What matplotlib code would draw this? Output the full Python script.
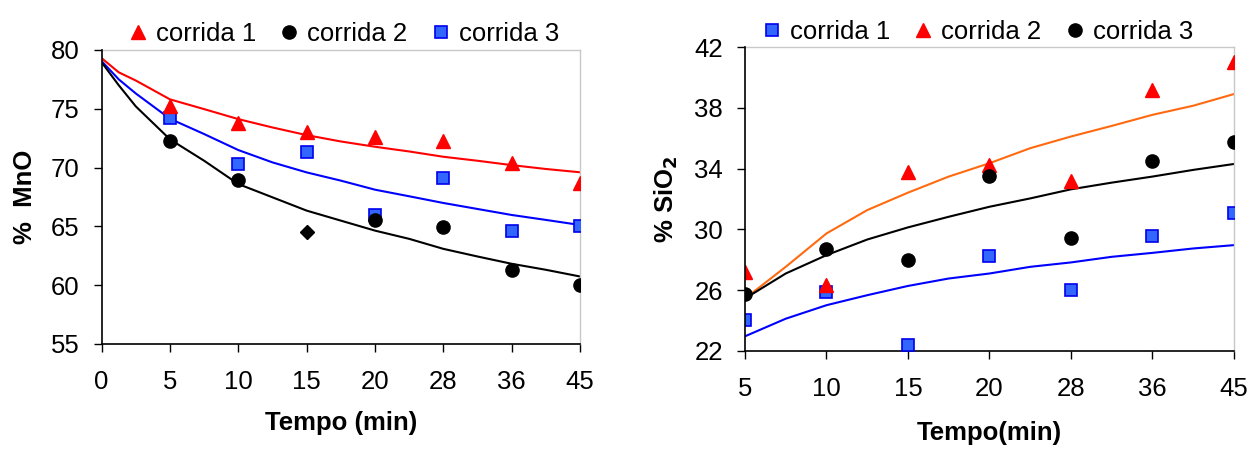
import matplotlib
matplotlib.use('Agg')
from matplotlib import pyplot as plt

plt.rcParams['font.family'] = ['Liberation Sans', 'DejaVu Sans']

# ---- left chart: % MnO ----
mno_times = ['0', '5', '10', '15', '20', '28', '36', '45']
mno_run1 = [75.2, 73.75, 73.0, 72.56, 72.28, 70.36, 68.66]   # triangles, from t=5
mno_run2 = [72.28, 68.97, None, 65.5, 64.93, 61.33, 60.03]   # circles
mno_run2_odd = 64.5                                           # diamond at t=15
mno_run3 = [74.2, 70.3, 71.29, 66.0, 69.11, 64.64, 65.07]     # squares

# model curves sampled along the category axis (category index)
mno_curve_pos = [0, 0.25, 0.5, 1, 1.5, 2, 2.5, 3, 3.5, 4, 4.5, 5, 5.5, 6, 6.5, 7]
mno_curve1 = [79.3, 78.1, 77.4, 75.8, 74.97, 74.12, 73.41, 72.76, 72.22, 71.77, 71.37,
              70.92, 70.58, 70.21, 69.88, 69.6]
mno_curve2 = [78.95, 77.0, 75.2, 72.4, 70.58, 68.6, 67.47, 66.34, 65.49, 64.64, 63.94,
              63.09, 62.44, 61.82, 61.31, 60.74]
mno_curve3 = [79.05, 77.5, 76.3, 74.15, 72.85, 71.49, 70.44, 69.59, 68.89, 68.12, 67.56,
              66.99, 66.48, 65.97, 65.55, 65.12]

# ---- right chart: % SiO2 ----
sio_times = ['5', '10', '15', '20', '28', '36', '45']
sio_run1 = [24.0, 25.88, 22.35, 28.26, 25.99, 29.58, 31.1]     # squares
sio_run2 = [27.2, 26.32, 33.81, 34.25, 33.21, 39.16, 41.03]    # triangles
sio_run3 = [25.77, 28.72, 27.97, 33.52, 29.4, 34.49, 35.79]    # circles

sio_curve_pos = [0, 0.5, 1, 1.5, 2, 2.5, 3, 3.5, 4, 4.5, 5, 5.5, 6]
sio_curve_orange = [25.44, 27.53, 29.73, 31.27, 32.42, 33.48, 34.36, 35.35, 36.12, 36.82,
                    37.55, 38.15, 38.92]
sio_curve_black = [25.44, 27.09, 28.3, 29.33, 30.13, 30.83, 31.49, 32.04, 32.64, 33.08,
                   33.48, 33.92, 34.31]
sio_curve_blue = [22.95, 24.11, 25.0, 25.66, 26.27, 26.76, 27.09, 27.53, 27.82, 28.19,
                  28.45, 28.74, 28.96]

RED = '#FF0000'
BLUE_FILL = '#3366FF'
BLUE_EDGE = '#0000EE'
ORANGE = '#FF6A10'
FS = 18.5

fig = plt.figure(figsize=(12.58, 4.55), dpi=100)
ax1 = fig.add_axes([0.0808, 0.2440, 0.3802, 0.6462])
ax2 = fig.add_axes([0.5922, 0.2292, 0.3887, 0.6668])


def style_axes(ax):
    for s in ['top', 'right']:
        ax.spines[s].set_color('#C8C8C8')
        ax.spines[s].set_linewidth(1.0)
    for s in ['left', 'bottom']:
        ax.spines[s].set_color('black')
        ax.spines[s].set_linewidth(1.2)
    ax.tick_params(axis='y', direction='out', length=6, width=1, labelsize=FS, pad=10)
    ax.tick_params(axis='x', direction='out', length=6, width=1, labelsize=FS, pad=13)


# left
x1 = list(range(1, len(mno_times)))
ax1.plot(mno_curve_pos, mno_curve1, color=RED, lw=1.5, zorder=2)
ax1.plot(mno_curve_pos, mno_curve3, color='#0000FF', lw=1.5, zorder=2)
ax1.plot(mno_curve_pos, mno_curve2, color='black', lw=1.5, zorder=2)
ax1.plot(x1, mno_run1, ls='none', marker='^', ms=10, color=RED, label='corrida 1', zorder=4)
ax1.plot([x for x, v in zip(x1, mno_run2) if v is not None],
         [v for v in mno_run2 if v is not None],
         ls='none', marker='o', ms=9.5, color='black', label='corrida 2', zorder=4)
ax1.plot(x1, mno_run3, ls='none', marker='s', ms=9, mfc=BLUE_FILL, mec=BLUE_EDGE, mew=1.2,
         label='corrida 3', zorder=3)
ax1.plot([3], [mno_run2_odd], ls='none', marker='D', ms=7, color='black', zorder=4)
ax1.set_xlim(0, 7)
ax1.set_ylim(55, 80)
ax1.set_xticks(range(len(mno_times)))
ax1.set_xticklabels(mno_times)
ax1.set_yticks([55, 60, 65, 70, 75, 80])
style_axes(ax1)
ax1.set_ylabel('%  MnO', fontsize=FS, fontweight='bold', labelpad=10)
ax1.set_xlabel('Tempo (min)', fontsize=FS, fontweight='bold', labelpad=12)
ax1.legend(loc='lower center', bbox_to_anchor=(0.5, 0.97), ncol=3, frameon=False,
           fontsize=FS, handletextpad=0.1, columnspacing=0.7, handlelength=1.2,
           borderaxespad=0.1)

# right
x2 = list(range(len(sio_times)))
ax2.plot(sio_curve_pos, sio_curve_orange, color=ORANGE, lw=1.5, zorder=2)
ax2.plot(sio_curve_pos, sio_curve_black, color='black', lw=1.5, zorder=2)
ax2.plot(sio_curve_pos, sio_curve_blue, color='#0000FF', lw=1.5, zorder=2)
ax2.plot(x2, sio_run1, ls='none', marker='s', ms=9, mfc=BLUE_FILL, mec=BLUE_EDGE, mew=1.2,
         label='corrida 1', zorder=3)
ax2.plot(x2, sio_run2, ls='none', marker='^', ms=10, color=RED, label='corrida 2', zorder=4)
ax2.plot(x2, sio_run3, ls='none', marker='o', ms=9.5, color='black', label='corrida 3', zorder=5)
ax2.set_xlim(0, 6)
ax2.set_ylim(22, 42)
ax2.set_xticks(x2)
ax2.set_xticklabels(sio_times)
ax2.set_yticks([22, 26, 30, 34, 38, 42])
style_axes(ax2)
ax2.set_ylabel('% SiO$_\\mathbf{2}$', fontsize=FS, fontweight='bold', labelpad=10)
ax2.set_xlabel('Tempo(min)', fontsize=FS, fontweight='bold', labelpad=14)
ax2.legend(loc='lower center', bbox_to_anchor=(0.47, 0.97), ncol=3, frameon=False,
           fontsize=FS, handletextpad=0.1, columnspacing=0.7, handlelength=1.2,
           borderaxespad=0.1)

for ax in (ax1, ax2):
    ax.spines['left'].set_zorder(6)

fig.savefig('out.png', dpi=100)
